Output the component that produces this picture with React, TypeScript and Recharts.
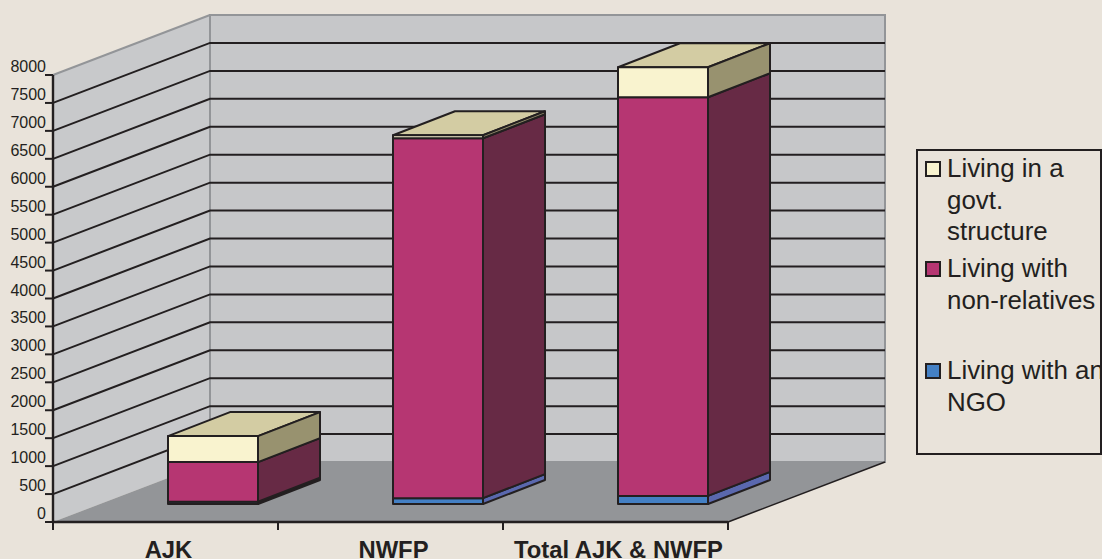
import { BarChart, Bar, XAxis, YAxis, CartesianGrid, Legend, usePlotArea } from 'recharts';

const categories = ['AJK', 'NWFP', 'Total AJK & NWFP'];
const livingWithNgo = [40, 105, 145];
const livingWithNonRelatives = [710, 6440, 7135];
const livingInGovtStructure = [465, 55, 537];
const yTicks = [0, 500, 1000, 1500, 2000, 2500, 3000, 3500, 4000, 4500, 5000, 5500, 6000, 6500, 7000, 7500, 8000];

const data = categories.map((name, i) => ({
  name,
  ngo: livingWithNgo[i],
  nonRelatives: livingWithNonRelatives[i],
  govt: livingInGovtStructure[i],
}));

const WIDTH = 1102;
const HEIGHT = 559;
const INK = '#231F20';
const FONT = '"Liberation Sans", Arial, Helvetica, sans-serif';

// oblique projection of the chart box and of the bars inside it
const WALL_DX = 157;
const WALL_DY = -60;
const BAR_OFFSET_X = 47.5;
const BAR_OFFSET_Y = -18;
const BAR_DX = 62;
const BAR_DY = -24;

const pts = (list: number[][]) => list.map(p => p.join(',')).join(' ');

function Walls() {
  const plot = usePlotArea();
  if (!plot) return null;
  const { x, y, width, height } = plot;
  const left = x;
  const right = x + width;
  const top = y;
  const bottom = y + height;
  const border = { stroke: '#939598', strokeWidth: 2 };
  return (
    <g>
      <polygon
        points={pts([[left, top], [left + WALL_DX, top + WALL_DY], [left + WALL_DX, bottom + WALL_DY], [left, bottom]])}
        fill="#C8C9CB"
      />
      <rect x={left + WALL_DX} y={top + WALL_DY} width={width} height={height} fill="#C6C7C9" {...border} />
      <polygon
        points={pts([[left, bottom], [right, bottom], [right + WALL_DX, bottom + WALL_DY], [left + WALL_DX, bottom + WALL_DY]])}
        fill="#939598"
      />
      <line x1={left} y1={top} x2={left + WALL_DX} y2={top + WALL_DY} {...border} />
      <line x1={right} y1={bottom} x2={right + WALL_DX} y2={bottom + WALL_DY} stroke={INK} strokeWidth={1.6} />
    </g>
  );
}

// each value gets a line across the side wall and along the back wall;
// the first line of the grid also paints the walls, so the rest sit on top of them
function WallLine(props: any) {
  const { x1, x2, y1, index } = props;
  if (index === 0) return <Walls key="walls" />;
  if (index === yTicks.length - 1) return <g key="floor-line" />;
  return (
    <polyline
      key={index}
      points={pts([[x1, y1], [x1 + WALL_DX, y1 + WALL_DY], [x2 + WALL_DX, y1 + WALL_DY]])}
      fill="none"
      stroke={INK}
      strokeWidth={2}
    />
  );
}

function makeBox(front: string, side: string, top?: string) {
  return function Box(props: any) {
    const x = props.x + BAR_OFFSET_X;
    const y = props.y + BAR_OFFSET_Y;
    const { width, height } = props;
    const line = { stroke: INK, strokeWidth: 2, strokeLinejoin: 'round' as const };
    return (
      <g>
        {top && (
          <polygon
            points={pts([[x, y], [x + width, y], [x + width + BAR_DX, y + BAR_DY], [x + BAR_DX, y + BAR_DY]])}
            fill={top}
            {...line}
          />
        )}
        <polygon
          points={pts([
            [x + width, y],
            [x + width + BAR_DX, y + BAR_DY],
            [x + width + BAR_DX, y + height + BAR_DY],
            [x + width, y + height],
          ])}
          fill={side}
          {...line}
        />
        <rect x={x} y={y} width={width} height={height} fill={front} {...line} />
      </g>
    );
  };
}

function ValueTick({ x, y, payload }: any) {
  return (
    <text x={x + 3} y={y - 3} textAnchor="end" fontFamily={FONT} fontSize={16} fill={INK}>
      {payload.value}
    </text>
  );
}

function CategoryTick({ x, y, payload, index }: any) {
  const band = 225;
  return (
    <g>
      <line x1={x + band / 2} y1={y - 8} x2={x + band / 2} y2={y} stroke={INK} strokeWidth={2} />
      {index === 0 && <line x1={x - band / 2} y1={y - 8} x2={x - band / 2} y2={y} stroke={INK} strokeWidth={2} />}
      <text x={x + 3} y={y + 27.5} textAnchor="middle" fontFamily={FONT} fontSize={23.8} fontWeight="bold" fill={INK}>
        {payload.value}
      </text>
    </g>
  );
}

const legendItems = [
  { lines: ['Living in a', 'govt.', 'structure'], color: '#F9F3CF', height: 100 },
  { lines: ['Living with', 'non-relatives'], color: '#B63672', height: 102 },
  { lines: ['Living with an', 'NGO'], color: '#4480C4', height: 64 },
];

function LegendBox() {
  return (
    <div
      style={{
        boxSizing: 'border-box',
        width: 186,
        height: 306,
        border: `2px solid ${INK}`,
        paddingTop: 2,
        overflow: 'hidden',
        fontFamily: FONT,
        fontSize: 25.9,
        lineHeight: '31.7px',
        color: INK,
      }}
    >
      {legendItems.map(item => (
        <div key={item.lines[0]} style={{ position: 'relative', height: item.height, paddingLeft: 29, whiteSpace: 'nowrap' }}>
          <span
            style={{
              position: 'absolute',
              left: 7,
              top: 8,
              boxSizing: 'border-box',
              width: 16,
              height: 16,
              background: item.color,
              border: `2px solid ${INK}`,
            }}
          />
          {item.lines.map(l => (
            <div key={l}>{l}</div>
          ))}
        </div>
      ))}
    </div>
  );
}

export default function App() {
  return (
    <div style={{ width: WIDTH, height: HEIGHT, overflow: 'hidden' }}>
      <style>{`body { margin: 0; background: #E9E3DA; }`}</style>
      <BarChart
        width={WIDTH}
        height={HEIGHT}
        data={data}
        margin={{ top: 75, right: 374, bottom: 0, left: 0 }}
        barCategoryGap="30%"
      >
        <CartesianGrid horizontal={(p: any) => <WallLine {...p} />} vertical={false} syncWithTicks />
        <XAxis
          dataKey="name"
          height={37}
          interval={0}
          tickLine={false}
          axisLine={{ stroke: INK, strokeWidth: 2.4 }}
          tick={<CategoryTick />}
        />
        <YAxis
          width={53}
          domain={[0, 8000]}
          ticks={yTicks}
          interval={0}
          tickSize={8}
          tickLine={{ stroke: INK, strokeWidth: 2 }}
          axisLine={{ stroke: INK, strokeWidth: 2.4 }}
          tick={<ValueTick />}
        />
        <Bar dataKey="ngo" stackId="a" isAnimationActive={false} fill="#4480C4" shape={makeBox('#4480C4', '#5A68AE')} />
        <Bar dataKey="nonRelatives" stackId="a" isAnimationActive={false} fill="#B63672" shape={makeBox('#B63672', '#672A45')} />
        <Bar dataKey="govt" stackId="a" isAnimationActive={false} fill="#F9F3CF" shape={makeBox('#F9F3CF', '#98926F', '#D3CCA3')} />
        <Legend
          layout="vertical"
          align="center"
          verticalAlign="middle"
          content={<LegendBox />}
          wrapperStyle={{ left: 916, top: 149, width: 186, height: 306, margin: 0 }}
        />
      </BarChart>
    </div>
  );
}
